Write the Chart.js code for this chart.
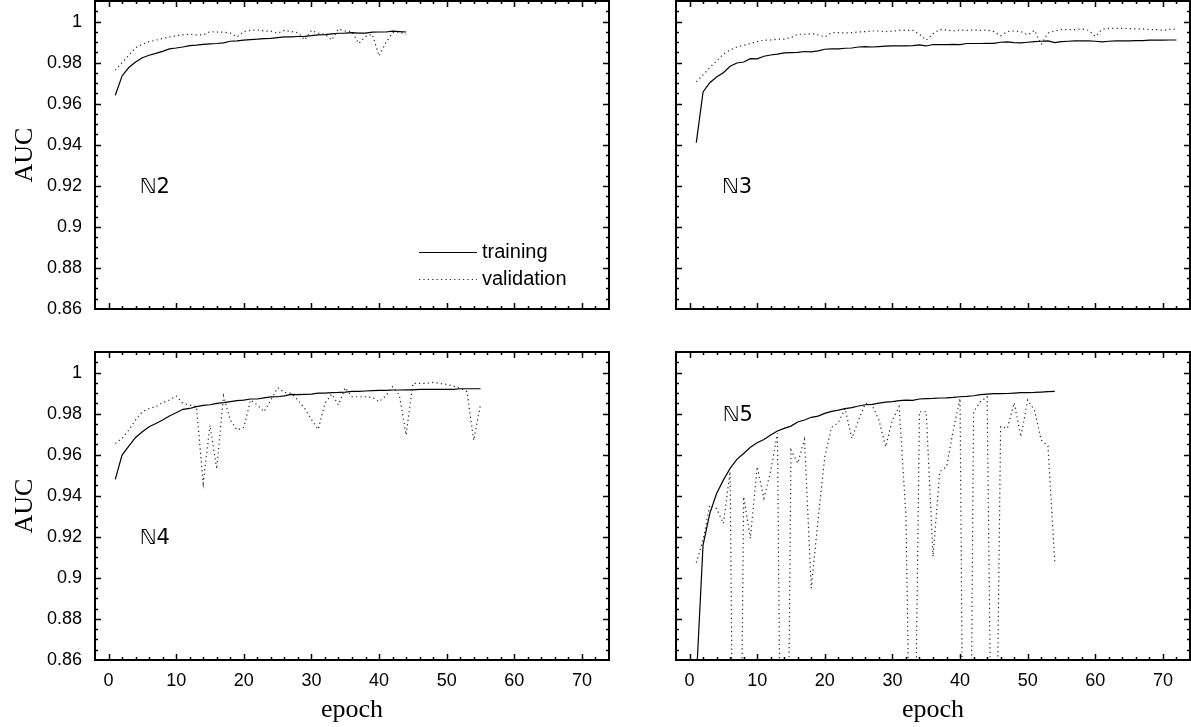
<!DOCTYPE html>
<html>
<head>
<meta charset="utf-8">
<script src="https://cdn.jsdelivr.net/npm/chart.js@4/dist/chart.umd.min.js"></script>
<style>
  body { margin: 0; background: #fff; }
  canvas { position: absolute; }
</style>
</head>
<body>
<canvas id="c2" width="640" height="340" style="left:0;top:0"></canvas>
<canvas id="c3" width="541" height="340" style="left:650px;top:0"></canvas>
<canvas id="c4" width="640" height="387" style="left:0;top:340px"></canvas>
<canvas id="c5" width="541" height="387" style="left:650px;top:340px"></canvas>
<script>
// AUC per epoch (epoch 1, 2, ...)
const trainN2 = [0.9641, 0.9735, 0.9776, 0.9803, 0.9824, 0.9836, 0.9845, 0.9855, 0.9867, 0.9871,
  0.9876, 0.9883, 0.9885, 0.9889, 0.9891, 0.9893, 0.9896, 0.9904, 0.9906, 0.9909,
  0.9912, 0.9914, 0.9917, 0.9918, 0.9922, 0.9925, 0.9925, 0.9927, 0.9928, 0.9931,
  0.9935, 0.9936, 0.9940, 0.9943, 0.9944, 0.9946, 0.9944, 0.9944, 0.9948, 0.9949,
  0.9949, 0.9953, 0.9951, 0.9949];
const validN2 = [0.9763, 0.9800, 0.9836, 0.9873, 0.9889, 0.9902, 0.9909, 0.9918, 0.9925, 0.9931,
  0.9935, 0.9938, 0.9935, 0.9935, 0.9951, 0.9949, 0.9948, 0.9944, 0.9925, 0.9951,
  0.9957, 0.9959, 0.9954, 0.9953, 0.9943, 0.9957, 0.9951, 0.9946, 0.9910, 0.9957,
  0.9943, 0.9938, 0.9910, 0.9964, 0.9954, 0.9951, 0.9893, 0.9927, 0.9938, 0.9832,
  0.9897, 0.9946, 0.9949, 0.9938];

const trainN3 = [0.9410, 0.9657, 0.9702, 0.9730, 0.9751, 0.9782, 0.9798, 0.9803, 0.9819, 0.9818,
  0.9831, 0.9837, 0.9841, 0.9847, 0.9849, 0.9850, 0.9854, 0.9852, 0.9857, 0.9865,
  0.9867, 0.9867, 0.9870, 0.9871, 0.9876, 0.9878, 0.9876, 0.9878, 0.9880, 0.9881,
  0.9881, 0.9881, 0.9883, 0.9886, 0.9881, 0.9888, 0.9888, 0.9888, 0.9889, 0.9888,
  0.9893, 0.9893, 0.9893, 0.9894, 0.9894, 0.9899, 0.9901, 0.9897, 0.9896, 0.9899,
  0.9902, 0.9904, 0.9906, 0.9897, 0.9902, 0.9904, 0.9906, 0.9906, 0.9906, 0.9904,
  0.9901, 0.9904, 0.9906, 0.9906, 0.9906, 0.9907, 0.9907, 0.9909, 0.9909, 0.9909,
  0.9910, 0.9910];
const validN3 = [0.9707, 0.9740, 0.9776, 0.9808, 0.9841, 0.9862, 0.9876, 0.9884, 0.9893, 0.9902,
  0.9909, 0.9910, 0.9914, 0.9914, 0.9922, 0.9938, 0.9938, 0.9941, 0.9935, 0.9925,
  0.9946, 0.9946, 0.9944, 0.9946, 0.9949, 0.9951, 0.9954, 0.9954, 0.9951, 0.9953,
  0.9957, 0.9957, 0.9957, 0.9938, 0.9909, 0.9941, 0.9961, 0.9959, 0.9954, 0.9959,
  0.9957, 0.9959, 0.9957, 0.9959, 0.9951, 0.9931, 0.9951, 0.9954, 0.9951, 0.9935,
  0.9957, 0.9889, 0.9944, 0.9954, 0.9961, 0.9961, 0.9961, 0.9964, 0.9957, 0.9927,
  0.9962, 0.9967, 0.9967, 0.9966, 0.9966, 0.9964, 0.9964, 0.9961, 0.9961, 0.9957,
  0.9962, 0.9964];

const trainN4 = [0.9480, 0.9598, 0.9642, 0.9684, 0.9712, 0.9736, 0.9752, 0.9769, 0.9788, 0.9804,
  0.9821, 0.9825, 0.9834, 0.9840, 0.9843, 0.9850, 0.9853, 0.9858, 0.9863, 0.9866,
  0.9871, 0.9871, 0.9877, 0.9881, 0.9882, 0.9886, 0.9894, 0.9892, 0.9894, 0.9895,
  0.9900, 0.9900, 0.9902, 0.9903, 0.9905, 0.9908, 0.9908, 0.9910, 0.9912, 0.9913,
  0.9913, 0.9915, 0.9915, 0.9916, 0.9916, 0.9918, 0.9918, 0.9918, 0.9918, 0.9918,
  0.9918, 0.9921, 0.9921, 0.9921, 0.9921];
const validN4 = [0.9655, 0.9679, 0.9720, 0.9769, 0.9809, 0.9825, 0.9834, 0.9853, 0.9866, 0.9886,
  0.9850, 0.9842, 0.9834, 0.9460, 0.9744, 0.9530, 0.9886, 0.9769, 0.9720, 0.9733,
  0.9866, 0.9842, 0.9809, 0.9866, 0.9926, 0.9903, 0.9899, 0.9866, 0.9825, 0.9772,
  0.9723, 0.9850, 0.9895, 0.9842, 0.9926, 0.9882, 0.9882, 0.9882, 0.9879, 0.9858,
  0.9886, 0.9931, 0.9890, 0.9696, 0.9947, 0.9947, 0.9947, 0.9952, 0.9947, 0.9942,
  0.9934, 0.9923, 0.9907, 0.9670, 0.9845];

const trainN5 = [0.8500, 0.9160, 0.9314, 0.9411, 0.9476, 0.9533, 0.9577, 0.9606, 0.9636, 0.9658,
  0.9674, 0.9696, 0.9715, 0.9728, 0.9739, 0.9759, 0.9769, 0.9782, 0.9788, 0.9801,
  0.9811, 0.9817, 0.9824, 0.9829, 0.9837, 0.9843, 0.9845, 0.9851, 0.9856, 0.9858,
  0.9863, 0.9866, 0.9864, 0.9871, 0.9873, 0.9874, 0.9876, 0.9877, 0.9879, 0.9882,
  0.9884, 0.9887, 0.9892, 0.9895, 0.9897, 0.9897, 0.9898, 0.9900, 0.9902, 0.9902,
  0.9903, 0.9905, 0.9907, 0.9908];
const validN5 = [0.9074, 0.9184, 0.9355, 0.9338, 0.9265, 0.9517, 0.5900, 0.9395, 0.9192, 0.9541,
  0.9387, 0.9520, 0.9704, 0.6000, 0.9623, 0.9558, 0.9674, 0.8949, 0.9282, 0.9590,
  0.9733, 0.9756, 0.9825, 0.9679, 0.9769, 0.9850, 0.9842, 0.9769, 0.9639, 0.9769,
  0.9834, 0.9300, 0.7200, 0.9809, 0.9809, 0.9103, 0.9517, 0.9541, 0.9720, 0.9874,
  0.5600, 0.9809, 0.9858, 0.9882, 0.7000, 0.9736, 0.9728, 0.9853, 0.9687, 0.9866,
  0.9817, 0.9671, 0.9642, 0.9079];

const xTickValues = [0, 10, 20, 30, 40, 50, 60, 70];
const yTickValues = [0.86, 0.88, 0.9, 0.92, 0.94, 0.96, 0.98, 1];
const seriesNames = ['training', 'validation'];

const X_MIN = -2, X_MAX = 74, Y_MIN = 0.86, Y_MAX = 1.01;
const tickFont = { family: '"Liberation Sans", Arial, sans-serif', size: 18 };
const titleFont = { family: '"Liberation Serif", serif', size: 26 };

function toPoints(arr) {
  return arr.map((v, i) => ({ x: i + 1, y: v }));
}

// frame with inward ticks on all four sides, panel tag and (optional) key
const framePlugin = {
  id: 'frame',
  afterDatasetsDraw(chart, args, opts) {
    const { ctx, chartArea: a, scales: { x, y } } = chart;
    ctx.save();
    ctx.strokeStyle = '#000';
    ctx.lineWidth = 1.5;
    ctx.beginPath();
    for (let v = X_MIN + 2; v < X_MAX; v += 2) {
      const px = Math.round(x.getPixelForValue(v)) + 0.5;
      const len = v % 10 === 0 ? 6 : 3;
      ctx.moveTo(px, a.bottom); ctx.lineTo(px, a.bottom - len);
      ctx.moveTo(px, a.top); ctx.lineTo(px, a.top + len);
    }
    for (let k = 1; k < 30; k++) {
      const v = Y_MIN + k * 0.005;
      const py = Math.round(y.getPixelForValue(v)) + 0.5;
      const len = k % 4 === 0 ? 6 : 3;
      ctx.moveTo(a.left, py); ctx.lineTo(a.left + len, py);
      ctx.moveTo(a.right, py); ctx.lineTo(a.right - len, py);
    }
    ctx.stroke();
    ctx.lineWidth = 2;
    ctx.strokeRect(a.left, a.top, a.width, a.height);

    ctx.fillStyle = '#000';
    ctx.font = '21px "DejaVu Sans", sans-serif';
    ctx.textBaseline = 'middle';
    ctx.textAlign = 'left';
    ctx.fillText(opts.tag, x.getPixelForValue(opts.tagAt[0]), y.getPixelForValue(opts.tagAt[1]));

    if (opts.key) {
      ctx.font = '20px "Liberation Sans", Arial, sans-serif';
      const tx = a.right - 127, sx0 = a.right - 190, sx1 = a.right - 132;
      const ys = [a.top + 251, a.top + 278];
      chart.data.datasets.forEach((ds, i) => {
        ctx.save();
        ctx.lineWidth = ds.borderWidth;
        ctx.strokeStyle = ds.borderColor;
        ctx.setLineDash(ds.borderDash || []);
        ctx.beginPath();
        ctx.moveTo(sx0, ys[i] + 0.5); ctx.lineTo(sx1, ys[i] + 0.5);
        ctx.stroke();
        ctx.restore();
        ctx.fillText(ds.label, tx, ys[i]);
      });
    }
    ctx.restore();
  }
};

function makePanel(id, train, valid, cfg) {
  const xScale = {
    type: 'linear', min: X_MIN, max: X_MAX,
    display: cfg.showX,
    grid: { display: false, drawTicks: false },
    border: { display: false },
    afterBuildTicks: (s) => { s.ticks = xTickValues.map(v => ({ value: v })); },
    afterFit: (s) => {
      s.height = cfg.showX ? 67 : 0;
      s.paddingLeft = 0; s.paddingRight = 0;
    },
    ticks: { font: tickFont, color: '#000', padding: 10, maxRotation: 0, autoSkip: false },
    title: { display: cfg.showX, text: 'epoch', font: titleFont, color: '#000', padding: { top: 0, bottom: 1 } }
  };
  const yScale = {
    type: 'linear', min: Y_MIN, max: Y_MAX,
    display: cfg.showY,
    grid: { display: false, drawTicks: false },
    border: { display: false },
    afterBuildTicks: (s) => { s.ticks = yTickValues.map(v => ({ value: v })); },
    afterFit: (s) => {
      s.width = cfg.showY ? 95 : 0;
      s.paddingTop = 0; s.paddingBottom = 0;
    },
    ticks: { font: tickFont, color: '#000', padding: 13, callback: (v) => String(+v.toFixed(3)) },
    title: { display: cfg.showY, text: 'AUC', font: titleFont, color: '#000', padding: { top: 10, bottom: 0 } }
  };
  return new Chart(document.getElementById(id), {
    type: 'line',
    data: {
      datasets: [
        { label: seriesNames[0], data: toPoints(train), borderColor: '#000', borderWidth: 1.2,
          pointRadius: 0, tension: 0, fill: false },
        { label: seriesNames[1], data: toPoints(valid), borderColor: '#222', borderWidth: 1.2,
          borderDash: [1.2, 3.2], pointRadius: 0, tension: 0, fill: false }
      ]
    },
    options: {
      responsive: false,
      animation: false,
      devicePixelRatio: 1,
      layout: { padding: cfg.padding },
      scales: { x: xScale, y: yScale },
      plugins: {
        legend: { display: false },
        tooltip: { enabled: false },
        frame: { tag: cfg.tag, tagAt: cfg.tagAt, key: cfg.key }
      }
    },
    plugins: [framePlugin]
  });
}

makePanel('c2', trainN2, validN2, { showX: false, showY: true, tag: 'ℕ2', tagAt: [4.6, 0.919], key: true,
  padding: { left: 0, top: 1, right: 31, bottom: 31 } });
makePanel('c3', trainN3, validN3, { showX: false, showY: false, tag: 'ℕ3', tagAt: [4.8, 0.919], key: false,
  padding: { left: 26, top: 1, right: 1, bottom: 31 } });
makePanel('c4', trainN4, validN4, { showX: true, showY: true, tag: 'ℕ4', tagAt: [4.6, 0.919], key: false,
  padding: { left: 0, top: 12, right: 31, bottom: 0 } });
makePanel('c5', trainN5, validN5, { showX: true, showY: false, tag: 'ℕ5', tagAt: [4.9, 0.979], key: false,
  padding: { left: 26, top: 12, right: 1, bottom: 0 } });
</script>
</body>
</html>
